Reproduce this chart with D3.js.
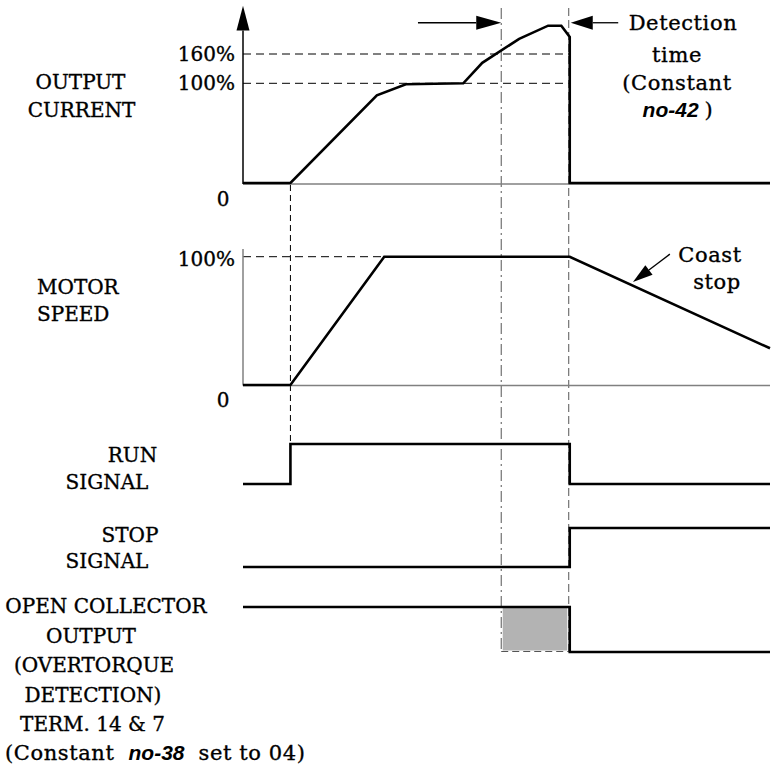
<!DOCTYPE html>
<html>
<head>
<meta charset="utf-8">
<script src="https://cdn.jsdelivr.net/npm/d3@7"></script>
<style>
    body { margin: 0; background: #fff; }
    svg text { font-family: "DejaVu Serif", serif; font-size: 20px; fill: #000; stroke: #000; stroke-width: 0.35px; }
    svg text.mixed { font-size: 21px; letter-spacing: 0.6px; }
    svg .code { font-family: "Liberation Sans", Arial, sans-serif; font-weight: bold; font-style: italic; letter-spacing: 0; stroke-width: 0; }
</style>
</head>
<body>
<svg id="chart" width="773" height="767"></svg>
<script>
// time axis is in arbitrary units, 0 = left edge of the plots
const tRun = 9;
const tDetect = 49;
const tTrip = 62;
const tEnd = 100;

// [time, percent]
const currentPts = [[0, 0], [9, 0], [25.4, 88], [30.9, 99], [41.8, 100], [45.4, 142], [52.4, 191],
    [57.9, 218], [60.4, 218], [62, 195], [62, 0], [100, 0]];
const speedPts = [[0, 0], [9, 0], [26.8, 100], [62, 100], [100, 28.6]];

// [time, level] digital signals, step after
const runPts = [[0, 0], [9, 1], [62, 0], [100, 0]];
const stopPts = [[0, 0], [62, 1], [100, 1]];
const ocPts = [[0, 1], [62, 0], [100, 0]];

const currentTicks = [0, 100, 160];
const speedTicks = [0, 100];

const svg = d3.select("#chart");

// scales
let x = d3.scaleLinear().domain([0, tEnd]).range([243, 770]);
let yCur = d3.scaleLinear().domain([0, 100, 160]).range([183, 83.3, 54]);
let ySpd = d3.scaleLinear().domain([0, 100]).range([385, 256.7]);
let yRun = d3.scaleLinear().domain([0, 1]).range([484, 444]);
let yStop = d3.scaleLinear().domain([0, 1]).range([567, 528]);
let yOc = d3.scaleLinear().domain([0, 1]).range([652, 607]);
let topY = 8;

const dashed = "8,5";
const dashDot = "11,4,2,4";

// reference lines
const refs = svg.append("g").attr("fill", "none").attr("stroke-width", 1);

currentTicks.filter(d => d > 0).forEach(v => {
    refs.append("line")
        .attr("x1", x(0)).attr("x2", x(tTrip))
        .attr("y1", yCur(v)).attr("y2", yCur(v))
        .attr("stroke", "#000").attr("stroke-dasharray", dashed);
});
speedTicks.filter(d => d > 0).forEach(v => {
    refs.append("line")
        .attr("x1", x(0)).attr("x2", x(tTrip))
        .attr("y1", ySpd(v)).attr("y2", ySpd(v))
        .attr("stroke", "#000").attr("stroke-dasharray", dashed);
});

// vertical markers
refs.append("line")
    .attr("x1", x(tRun)).attr("x2", x(tRun))
    .attr("y1", yCur(0) + 2).attr("y2", yRun(1))
    .attr("stroke", "#000").attr("stroke-dasharray", "6,4");
refs.append("line")
    .attr("x1", x(tDetect)).attr("x2", x(tDetect))
    .attr("y1", topY).attr("y2", yOc(0))
    .attr("stroke", "#555").attr("stroke-dasharray", dashDot);
refs.append("line")
    .attr("x1", x(tTrip) - 1).attr("x2", x(tTrip) - 1)
    .attr("y1", topY).attr("y2", yOc(0))
    .attr("stroke", "#555").attr("stroke-dasharray", "8,4");

// overtorque detection window
svg.append("rect")
    .attr("x", x(tDetect) + 1.5)
    .attr("y", yOc(1))
    .attr("width", x(tTrip) - x(tDetect) - 4)
    .attr("height", yOc(0) - yOc(1) - 1.5)
    .attr("fill", "#b3b3b3");
refs.append("line")
    .attr("x1", x(tDetect)).attr("x2", x(tTrip))
    .attr("y1", yOc(0) - 0.5).attr("y2", yOc(0) - 0.5)
    .attr("stroke", "#555").attr("stroke-dasharray", "7,4");

// axes
svg.append("line")
    .attr("x1", x(0)).attr("x2", x(tEnd))
    .attr("y1", yCur(0) + 1).attr("y2", yCur(0) + 1)
    .attr("stroke", "#808080").attr("stroke-width", 1.5);
svg.append("line")
    .attr("x1", x(0)).attr("x2", x(0))
    .attr("y1", yCur(0) + 1).attr("y2", yCur(208))
    .attr("stroke", "#000").attr("stroke-width", 1.5);
svg.append("path")
    .attr("d", `M${x(0) - 6.5},${yCur(208)} L${x(0)},${yCur(259)} L${x(0) + 6.5},${yCur(208)} Z`)
    .attr("fill", "#000");

svg.append("line")
    .attr("x1", x(0)).attr("x2", x(tEnd))
    .attr("y1", ySpd(0) + 0.5).attr("y2", ySpd(0) + 0.5)
    .attr("stroke", "#808080").attr("stroke-width", 1.5);
svg.append("line")
    .attr("x1", x(0)).attr("x2", x(0))
    .attr("y1", ySpd(0) + 0.5).attr("y2", ySpd(106))
    .attr("stroke", "#808080").attr("stroke-width", 1.5);

// tick labels
let curAxis = svg.append("g")
    .attr("transform", "translate(" + x(0) + ",0)")
    .call(d3.axisLeft(yCur).tickValues(currentTicks.filter(d => d > 0))
        .tickSize(0).tickPadding(8).tickFormat(d => d + "%"));
curAxis.select(".domain").remove();

let spdAxis = svg.append("g")
    .attr("transform", "translate(" + x(0) + ",0)")
    .call(d3.axisLeft(ySpd).tickValues(speedTicks.filter(d => d > 0))
        .tickSize(0).tickPadding(8).tickFormat(d => d + "%"));
spdAxis.select(".domain").remove();
spdAxis.selectAll("text").attr("dy", "0.42em");

svg.append("text").attr("x", x(0) - 20).attr("y", yCur(0) + 23)
    .attr("text-anchor", "middle").text("0");
svg.append("text").attr("x", x(0) - 20).attr("y", ySpd(0) + 22)
    .attr("text-anchor", "middle").text("0");

// data lines
let line = d3.line().x(d => x(d[0]));

svg.append("path")
    .datum(currentPts)
    .attr("d", line.y(d => yCur(d[1])))
    .attr("fill", "none").attr("stroke", "#000").attr("stroke-width", 2.6)
    .attr("stroke-linejoin", "miter");

svg.append("path")
    .datum(speedPts)
    .attr("d", line.y(d => ySpd(d[1])).curve(d3.curveLinear))
    .attr("fill", "none").attr("stroke", "#000").attr("stroke-width", 2.6);

let step = d3.line().x(d => x(d[0])).curve(d3.curveStepAfter);
[[runPts, yRun], [stopPts, yStop], [ocPts, yOc]].forEach(([pts, ys]) => {
    svg.append("path")
        .datum(pts)
        .attr("d", step.y(d => ys(d[1])))
        .attr("fill", "none").attr("stroke", "#000").attr("stroke-width", 2.6);
});

// annotation arrows
function arrow(x1, y1, x2, y2, len, half) {
    let a = Math.atan2(y2 - y1, x2 - x1);
    let bx = x2 - len * Math.cos(a), by = y2 - len * Math.sin(a);
    svg.append("line")
        .attr("x1", x1).attr("y1", y1).attr("x2", bx).attr("y2", by)
        .attr("stroke", "#000").attr("stroke-width", 1.3);
    svg.append("path")
        .attr("d", `M${x2},${y2} L${bx + half * Math.sin(a)},${by - half * Math.cos(a)} ` +
            `L${bx - half * Math.sin(a)},${by + half * Math.cos(a)} Z`)
        .attr("fill", "#000");
}
arrow(x(33.2), yCur(224), x(tDetect), yCur(224), 25, 7);
arrow(x(71.2), yCur(224), x(tTrip) + 1, yCur(224), 22, 7);
arrow(x(81), ySpd(102), x(74), ySpd(80.3), 20, 6);

// labels
function label(txt, lx, ly, anchor, cls) {
    return svg.append("text")
        .attr("x", lx).attr("y", ly)
        .attr("text-anchor", anchor || "middle")
        .attr("class", cls || null)
        .text(txt);
}

label("OUTPUT", 80.5, 89);
label("CURRENT", 81.5, 117);
label("MOTOR", 37, 294, "start");
label("SPEED", 37, 321, "start");
label("RUN", 132.5, 462);
label("SIGNAL", 107, 489);
label("STOP", 130, 542);
label("SIGNAL", 107, 568);
label("OPEN COLLECTOR", 106, 613);
label("OUTPUT", 91, 643);
label("(OVERTORQUE", 94, 672);
label("DETECTION)", 93, 702);
label("TERM. 14 & 7", 92.5, 731);

let bottom = label("", 5, 760, "start", "mixed");
bottom.append("tspan").text("(Constant");
bottom.append("tspan").attr("class", "code").attr("dx", 14).text("no-38");
bottom.append("tspan").attr("dx", 14).text("set to 04)");

label("Detection", 683, 30, "middle", "mixed");
label("time", 677, 62, "middle", "mixed");
label("(Constant", 677, 90, "middle", "mixed");
let nc = label("", 678, 117, "middle", "mixed");
nc.append("tspan").attr("class", "code").text("no-42");
nc.append("tspan").attr("dx", 6).text(")");

label("Coast", 710, 262, "middle", "mixed");
label("stop", 717, 289, "middle", "mixed");
</script>
</body>
</html>
